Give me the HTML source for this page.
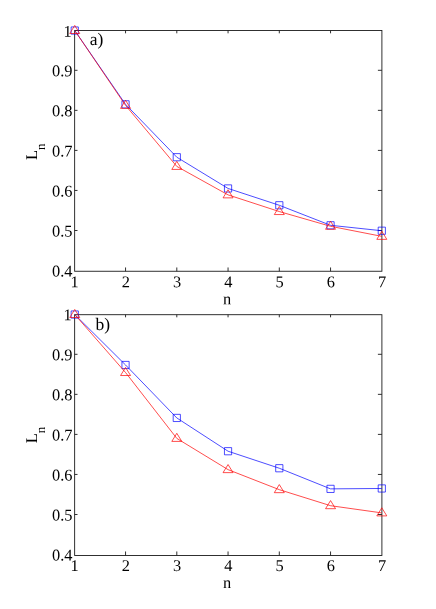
<!DOCTYPE html><html><head><meta charset="utf-8"><style>html,body{margin:0;padding:0;background:#fff}svg{display:block}text{font-family:"Liberation Serif",serif;fill:#000;text-rendering:geometricPrecision}</style></head><body>
<svg style="will-change:transform" width="436" height="609" viewBox="0 0 436 609">
<rect width="436" height="609" fill="#fff"/>
<g stroke="#1a1a1a" stroke-width="0.9" fill="none">
<rect x="74.65" y="30.45" width="307.25" height="240.80"/>
<path d="M125.55 271.25 V267.48 M125.55 30.45 V33.32 M176.80 271.25 V267.48 M176.80 30.45 V33.32 M228.05 271.25 V267.48 M228.05 30.45 V33.32 M279.30 271.25 V267.48 M279.30 30.45 V33.32 M330.55 271.25 V267.48 M330.55 30.45 V33.32 M74.65 230.50 H77.5 M381.9 230.50 H377.9 M74.65 190.45 H77.5 M381.9 190.45 H377.9 M74.65 150.40 H77.5 M381.9 150.40 H377.9 M74.65 110.35 H77.5 M381.9 110.35 H377.9 M74.65 70.30 H77.5 M381.9 70.30 H377.9"/>
</g>
<g font-size="16.4">
<text x="74.50" y="287.15" text-anchor="middle" transform="rotate(0.03 74.50 287.15)">1</text>
<text x="125.75" y="287.15" text-anchor="middle" transform="rotate(0.03 125.75 287.15)">2</text>
<text x="177.00" y="287.15" text-anchor="middle" transform="rotate(0.03 177.00 287.15)">3</text>
<text x="228.25" y="287.15" text-anchor="middle" transform="rotate(0.03 228.25 287.15)">4</text>
<text x="279.50" y="287.15" text-anchor="middle" transform="rotate(0.03 279.50 287.15)">5</text>
<text x="330.75" y="287.15" text-anchor="middle" transform="rotate(0.03 330.75 287.15)">6</text>
<text x="382.00" y="287.15" text-anchor="middle" transform="rotate(0.03 382.00 287.15)">7</text>
<text x="72.50" y="276.55" text-anchor="end" transform="rotate(0.03 72.50 276.55)">0.4</text>
<text x="72.50" y="236.50" text-anchor="end" transform="rotate(0.03 72.50 236.50)">0.5</text>
<text x="72.50" y="196.45" text-anchor="end" transform="rotate(0.03 72.50 196.45)">0.6</text>
<text x="72.50" y="156.40" text-anchor="end" transform="rotate(0.03 72.50 156.40)">0.7</text>
<text x="72.50" y="116.35" text-anchor="end" transform="rotate(0.03 72.50 116.35)">0.8</text>
<text x="72.50" y="76.30" text-anchor="end" transform="rotate(0.03 72.50 76.30)">0.9</text>
<text x="71.70" y="36.75" text-anchor="end" transform="rotate(0.03 71.70 36.75)">1</text>
<text x="227.15" y="304.25" text-anchor="middle" transform="rotate(0.03 227.15 304.25)">n</text>
<text transform="translate(37 160.10) rotate(-90)">L<tspan font-size="13" dy="8">n</tspan></text>
<text x="89.70" y="44.90" font-size="17.5" transform="rotate(0.03 89.70 44.90)">a)</text>
</g>
<g fill="none" stroke="#0000ff" stroke-width="0.7" stroke-linejoin="round">
<polyline points="74.75,30.53 125.55,104.34 176.80,157.21 228.05,188.45 279.30,205.27 330.55,225.29 381.80,230.74"/>
<rect x="71.15" y="26.93" width="7.2" height="7.2"/>
<rect x="121.95" y="100.74" width="7.2" height="7.2"/>
<rect x="173.20" y="153.61" width="7.2" height="7.2"/>
<rect x="224.45" y="184.85" width="7.2" height="7.2"/>
<rect x="275.70" y="201.67" width="7.2" height="7.2"/>
<rect x="326.95" y="221.69" width="7.2" height="7.2"/>
<rect x="378.20" y="227.14" width="7.2" height="7.2"/>
</g>
<g fill="none" stroke="#ff0000" stroke-width="0.7" stroke-linejoin="round">
<polyline points="74.75,30.53 125.55,105.38 176.80,166.42 228.05,194.86 279.30,211.56 330.55,226.29 381.80,236.35"/>
<path d="M69.75 33.53 L79.75 33.53 L74.75 25.43 Z"/>
<path d="M120.55 108.38 L130.55 108.38 L125.55 100.28 Z"/>
<path d="M171.80 169.42 L181.80 169.42 L176.80 161.32 Z"/>
<path d="M223.05 197.86 L233.05 197.86 L228.05 189.76 Z"/>
<path d="M274.30 214.56 L284.30 214.56 L279.30 206.46 Z"/>
<path d="M325.55 229.29 L335.55 229.29 L330.55 221.19 Z"/>
<path d="M376.80 239.35 L386.80 239.35 L381.80 231.25 Z"/>
</g>
<g stroke="#1a1a1a" stroke-width="0.9" fill="none">
<rect x="74.65" y="314.7" width="307.25" height="240.75"/>
<path d="M125.55 555.45 V551.48 M125.55 314.7 V317.32 M176.80 555.45 V551.48 M176.80 314.7 V317.32 M228.05 555.45 V551.48 M228.05 314.7 V317.32 M279.30 555.45 V551.48 M279.30 314.7 V317.32 M330.55 555.45 V551.48 M330.55 314.7 V317.32 M74.65 514.50 H77.5 M381.9 514.50 H377.9 M74.65 474.45 H77.5 M381.9 474.45 H377.9 M74.65 434.40 H77.5 M381.9 434.40 H377.9 M74.65 394.35 H77.5 M381.9 394.35 H377.9 M74.65 354.30 H77.5 M381.9 354.30 H377.9"/>
</g>
<g font-size="16.4">
<text x="74.50" y="571.05" text-anchor="middle" transform="rotate(0.03 74.50 571.05)">1</text>
<text x="125.75" y="571.05" text-anchor="middle" transform="rotate(0.03 125.75 571.05)">2</text>
<text x="177.00" y="571.05" text-anchor="middle" transform="rotate(0.03 177.00 571.05)">3</text>
<text x="228.25" y="571.05" text-anchor="middle" transform="rotate(0.03 228.25 571.05)">4</text>
<text x="279.50" y="571.05" text-anchor="middle" transform="rotate(0.03 279.50 571.05)">5</text>
<text x="330.75" y="571.05" text-anchor="middle" transform="rotate(0.03 330.75 571.05)">6</text>
<text x="382.00" y="571.05" text-anchor="middle" transform="rotate(0.03 382.00 571.05)">7</text>
<text x="72.50" y="560.55" text-anchor="end" transform="rotate(0.03 72.50 560.55)">0.4</text>
<text x="72.50" y="520.50" text-anchor="end" transform="rotate(0.03 72.50 520.50)">0.5</text>
<text x="72.50" y="480.45" text-anchor="end" transform="rotate(0.03 72.50 480.45)">0.6</text>
<text x="72.50" y="440.40" text-anchor="end" transform="rotate(0.03 72.50 440.40)">0.7</text>
<text x="72.50" y="400.35" text-anchor="end" transform="rotate(0.03 72.50 400.35)">0.8</text>
<text x="72.50" y="360.30" text-anchor="end" transform="rotate(0.03 72.50 360.30)">0.9</text>
<text x="71.70" y="320.25" text-anchor="end" transform="rotate(0.03 71.70 320.25)">1</text>
<text x="227.15" y="588.05" text-anchor="middle" transform="rotate(0.03 227.15 588.05)">n</text>
<text transform="translate(37 443.20) rotate(-90)">L<tspan font-size="13" dy="8">n</tspan></text>
<text x="95.60" y="329.90" font-size="17.5" transform="rotate(0.03 95.60 329.90)">b)</text>
</g>
<g fill="none" stroke="#0000ff" stroke-width="0.7" stroke-linejoin="round">
<polyline points="74.75,314.53 125.55,364.99 176.80,417.94 228.05,451.22 279.30,468.24 330.55,488.87 381.80,488.47"/>
<rect x="71.15" y="310.93" width="7.2" height="7.2"/>
<rect x="121.95" y="361.39" width="7.2" height="7.2"/>
<rect x="173.20" y="414.34" width="7.2" height="7.2"/>
<rect x="224.45" y="447.62" width="7.2" height="7.2"/>
<rect x="275.70" y="464.64" width="7.2" height="7.2"/>
<rect x="326.95" y="485.27" width="7.2" height="7.2"/>
<rect x="378.20" y="484.87" width="7.2" height="7.2"/>
</g>
<g fill="none" stroke="#ff0000" stroke-width="0.7" stroke-linejoin="round">
<polyline points="74.75,314.53 125.55,372.52 176.80,438.40 228.05,469.64 279.30,489.67 330.55,505.69 381.80,512.90"/>
<path d="M69.75 317.53 L79.75 317.53 L74.75 309.43 Z"/>
<path d="M120.55 375.52 L130.55 375.52 L125.55 367.42 Z"/>
<path d="M171.80 441.40 L181.80 441.40 L176.80 433.30 Z"/>
<path d="M223.05 472.64 L233.05 472.64 L228.05 464.54 Z"/>
<path d="M274.30 492.67 L284.30 492.67 L279.30 484.57 Z"/>
<path d="M325.55 508.69 L335.55 508.69 L330.55 500.59 Z"/>
<path d="M376.80 515.90 L386.80 515.90 L381.80 507.80 Z"/>
</g>
</svg></body></html>
